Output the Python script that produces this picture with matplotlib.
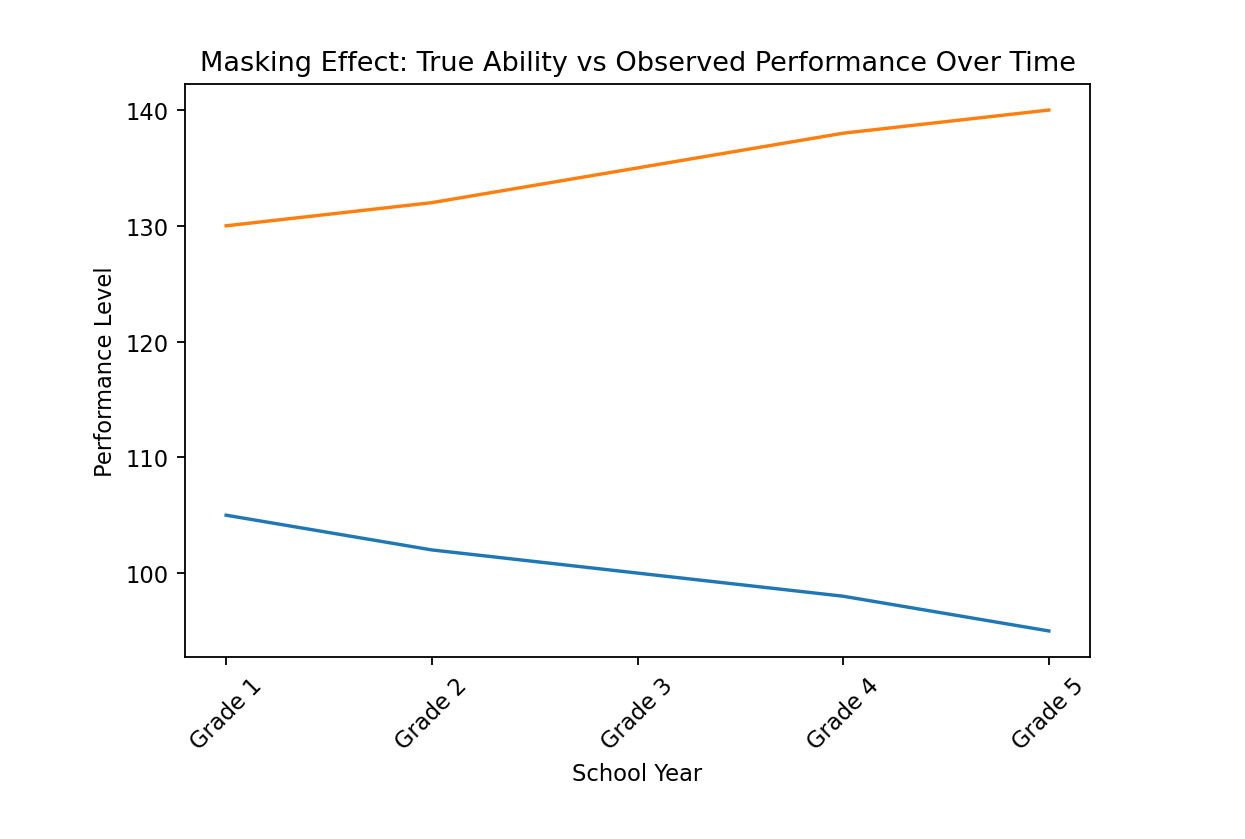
import matplotlib
matplotlib.use('Agg')
import matplotlib.pyplot as plt

# 資料
grades = ['Grade 1', 'Grade 2', 'Grade 3', 'Grade 4', 'Grade 5']
observed = [105, 102, 100, 98, 95]
true_ability = [130, 132, 135, 138, 140]

DPI = 163
fig = plt.figure(figsize=(1245 / DPI, 840 / DPI), dpi=DPI)
ax = fig.add_axes([185 / 1245, 1 - 658 / 840, (1090 - 185) / 1245, (658 - 85) / 840])

ax.plot(grades, observed, color='#1f77b4')
ax.plot(grades, true_ability, color='#ff7f0e')

ax.set_title('Masking Effect: True Ability vs Observed Performance Over Time')
ax.set_xlabel('School Year')
ax.set_ylabel('Performance Level')
plt.setp(ax.get_xticklabels(), rotation=45)

fig.savefig('out.png', dpi=DPI, facecolor='white')
